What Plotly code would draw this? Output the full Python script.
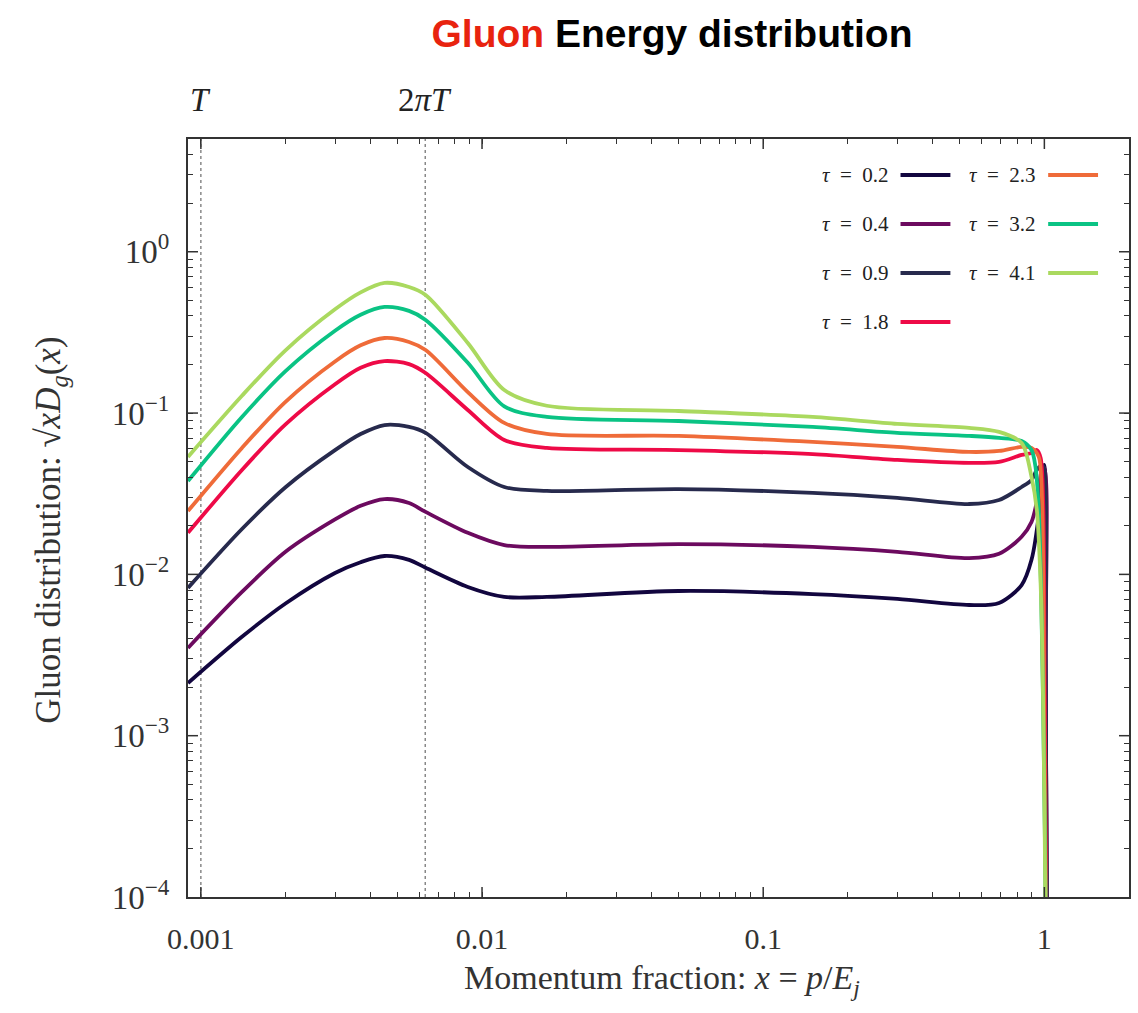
import plotly.graph_objects as go
import math

# ---------------- data ----------------
tau_labels = ["0.2", "0.4", "0.9", "1.8", "2.3", "3.2", "4.1"]
colors = ["#12063f", "#6c0a5f", "#272a4d", "#ee0a47", "#ef6b39", "#0ac384", "#aad95f"]

x_main = [0.0009, 0.0014, 0.002, 0.003, 0.0037, 0.0045, 0.0055, 0.0063, 0.0089, 0.012,
          0.017, 0.05, 0.15, 0.3, 0.54, 0.69, 0.83, 0.90]

y_tau02 = [0.00212, 0.0041, 0.0066, 0.0102, 0.0119, 0.0130, 0.0123, 0.0110, 0.00836, 0.00725,
           0.00725, 0.00789, 0.00755, 0.00704, 0.00646, 0.00665, 0.00859, 0.0123]
y_tau04 = [0.00350, 0.00778, 0.0138, 0.0219, 0.0266, 0.0293, 0.0277, 0.0244, 0.0181, 0.0152,
           0.0148, 0.0154, 0.0148, 0.0138, 0.0126, 0.0134, 0.0171, 0.0211]
y_tau09 = [0.00824, 0.0191, 0.0347, 0.0589, 0.0741, 0.0843, 0.0820, 0.0754, 0.0463, 0.0348,
           0.0329, 0.0338, 0.0320, 0.0298, 0.0273, 0.0289, 0.0348, 0.0385]
y_tau18 = [0.0181, 0.0444, 0.0851, 0.151, 0.191, 0.210, 0.201, 0.177, 0.1045, 0.0681,
           0.0608, 0.0590, 0.0557, 0.0512, 0.0491, 0.0498, 0.0550, 0.0566]
y_tau23 = [0.0247, 0.0608, 0.1175, 0.209, 0.263, 0.292, 0.276, 0.246, 0.135, 0.0869,
           0.0742, 0.0722, 0.0662, 0.0617, 0.0574, 0.0582, 0.0617, 0.0608]
y_tau32 = [0.0379, 0.0946, 0.182, 0.324, 0.407, 0.455, 0.430, 0.378, 0.205, 0.110,
           0.0946, 0.0893, 0.0820, 0.0754, 0.0722, 0.0702, 0.0671, 0.0590]
y_tau41 = [0.0535, 0.128, 0.245, 0.440, 0.560, 0.641, 0.605, 0.540, 0.272, 0.139,
           0.111, 0.103, 0.0946, 0.0856, 0.0809, 0.0764, 0.0653, 0.0402]

# behaviour close to x = 1 (end-point spike / sharp cut-off)
x_tail02 = [0.96, 0.985, 1.0, 1.01, 1.02, 1.03]
y_tail02 = [0.0251, 0.0444, 0.0477, 0.003, 1e-4, 1e-5]
x_tail04 = [0.95, 0.98, 1.0, 1.01, 1.02, 1.03]
y_tail04 = [0.031, 0.0444, 0.0457, 0.003, 1e-4, 1e-5]
x_tail09 = [0.94, 0.98, 1.0, 1.01, 1.02, 1.03]
y_tail09 = [0.0444, 0.0477, 0.0444, 0.003, 1e-4, 1e-5]
x_tail18 = [0.94, 0.97, 0.99, 1.003, 1.015, 1.025]
y_tail18 = [0.059, 0.0527, 0.0289, 0.002, 1e-4, 1e-5]
x_tail23 = [0.955, 0.975, 0.99, 1.0, 1.012, 1.02]
y_tail23 = [0.0535, 0.0385, 0.0123, 0.001, 1e-4, 1e-5]
x_tail32 = [0.93, 0.955, 0.975, 0.995, 1.01, 1.02]
y_tail32 = [0.0463, 0.0251, 0.00693, 0.0008, 1e-4, 1e-5]
x_tail41 = [0.94, 0.965, 0.98, 0.995, 1.008, 1.015]
y_tail41 = [0.0251, 0.0111, 0.00452, 0.0008, 1e-4, 1e-5]

T_val = 0.001
twopiT_val = 0.00628

x_ticks = [0.001, 0.01, 0.1, 1]
x_ticktext = ["0.001", "0.01", "0.1", "1"]
y_ticks = [1e-4, 1e-3, 1e-2, 1e-1, 1e0]
y_ticktext = ["10<sup>−4</sup>", "10<sup>−3</sup>", "10<sup>−2</sup>",
              "10<sup>−1</sup>", "10<sup>0</sup>"]

series = [
    (y_tau02, x_tail02, y_tail02),
    (y_tau04, x_tail04, y_tail04),
    (y_tau09, x_tail09, y_tail09),
    (y_tau18, x_tail18, y_tail18),
    (y_tau23, x_tail23, y_tail23),
    (y_tau32, x_tail32, y_tail32),
    (y_tau41, x_tail41, y_tail41),
]

SERIF = "Liberation Serif, DejaVu Serif, serif"
AX = "#333333"
XR = [math.log10(0.0009), math.log10(2)]
YR = [-4, math.log10(5)]

# all tick positions: majors (labelled) + minors 2..9 per decade (unlabelled)
x_minor = [m * 10.0 ** e for e in range(-4, 1) for m in range(2, 10)]
y_minor = [m * 10.0 ** e for e in range(-5, 1) for m in range(2, 10)]
x_all = x_ticks + x_minor
x_all_txt = x_ticktext + [""] * len(x_minor)
y_all = y_ticks + y_minor
y_all_txt = y_ticktext + [""] * len(y_minor)

fig = go.Figure()
for lab, col, (ym, xt, yt) in zip(tau_labels, colors, series):
    fig.add_trace(go.Scatter(
        x=x_main + xt, y=ym + yt, mode="lines", name="τ = " + lab,
        line=dict(color=col, width=3.8, shape="spline", smoothing=0.85),
        showlegend=False, hoverinfo="skip"))

# dotted reference lines at T and 2πT
for xv in (T_val, twopiT_val):
    fig.add_shape(type="line", xref="x", yref="paper", x0=xv, x1=xv, y0=0, y1=1,
                  line=dict(color="#777777", width=1.3, dash="dot"), layer="below")

# longer major ticks on all four sides
MAJ_LEN = 10
PW, PH = 943.0, 758.0
for xv in x_ticks:
    for y0, y1 in ((0, MAJ_LEN / PH), (1 - MAJ_LEN / PH, 1)):
        fig.add_shape(type="line", xref="x", yref="paper", x0=xv, x1=xv, y0=y0, y1=y1,
                      line=dict(color=AX, width=1.5))
for yv in y_ticks[1:]:
    for x0, x1 in ((0, MAJ_LEN / PW), (1 - MAJ_LEN / PW, 1)):
        fig.add_shape(type="line", xref="paper", yref="y", x0=x0, x1=x1, y0=yv, y1=yv,
                      line=dict(color=AX, width=1.5))

# labels above the plot
fig.add_annotation(x=math.log10(T_val), y=1.051, xref="x", yref="paper",
                   xanchor="center", yanchor="middle",
                   text="<i>T</i>", showarrow=False,
                   font=dict(family=SERIF, size=33, color="#222"))
fig.add_annotation(x=math.log10(twopiT_val), y=1.051, xref="x", yref="paper",
                   xanchor="center", yanchor="middle",
                   text="2<i>πT</i>", showarrow=False,
                   font=dict(family=SERIF, size=33, color="#222"))

# custom legend: text then line sample, two columns
rows_y = [0.9525, 0.8879, 0.8232, 0.7586]
col_text_x = [0.7466, 0.9035]
col_line_x = [(0.7572, 0.8102), (0.9141, 0.9671)]
for i, (lab, col) in enumerate(zip(tau_labels, colors)):
    c = 0 if i < 4 else 1
    r = i if i < 4 else i - 4
    fig.add_annotation(x=col_text_x[c], y=rows_y[r], xref="paper", yref="paper",
                       xanchor="right", yanchor="middle", showarrow=False,
                       text="<i>τ</i>\u2002=\u2002" + lab,
                       font=dict(family=SERIF, size=21, color="#222"))
    fig.add_shape(type="line", xref="paper", yref="paper",
                  x0=col_line_x[c][0], x1=col_line_x[c][1], y0=rows_y[r], y1=rows_y[r],
                  line=dict(color=col, width=4))

# axis titles
fig.add_annotation(x=0.504, y=-0.11, xref="paper", yref="paper", showarrow=False,
                   xanchor="center", yanchor="middle",
                   text="Momentum fraction: <i>x</i> = <i>p</i>/<i>E<sub>j</sub></i>",
                   font=dict(family=SERIF, size=34, color="#333"))
fig.add_annotation(x=-0.146, y=0.484, xref="paper", yref="paper", showarrow=False,
                   xanchor="center", yanchor="middle", textangle=-90,
                   text="Gluon distribution: √<i>x</i><i>D<sub>g</sub></i>(<i>x</i>)",
                   font=dict(family=SERIF, size=35, color="#333"))

fig.update_layout(
    width=1138, height=1013,
    margin=dict(l=188, r=7, t=139, b=116),
    paper_bgcolor="white", plot_bgcolor="white",
    title=dict(text="<span style='color:#e8230f'>Gluon</span> Energy distribution",
               x=0.5905, xanchor="center", y=0.967, yanchor="middle", yref="container",
               font=dict(family="Liberation Sans, Arial, sans-serif", size=39,
                         color="black", weight="bold")),
    xaxis=dict(type="log", range=XR,
               tickmode="array", tickvals=x_all, ticktext=x_all_txt,
               ticks="inside", ticklen=5, tickwidth=1, tickcolor=AX,
               showline=True, linecolor=AX, linewidth=2, mirror="allticks",
               showgrid=False, zeroline=False, ticklabelstandoff=14,
               tickfont=dict(family=SERIF, size=30, color="#333")),
    yaxis=dict(type="log", range=YR,
               tickmode="array", tickvals=y_all, ticktext=y_all_txt,
               ticks="inside", ticklen=5, tickwidth=1, tickcolor=AX,
               showline=True, linecolor=AX, linewidth=2, mirror="allticks",
               showgrid=False, zeroline=False, ticklabelstandoff=10,
               tickfont=dict(family=SERIF, size=33, color="#333")),
)

fig.write_html("out.html")
